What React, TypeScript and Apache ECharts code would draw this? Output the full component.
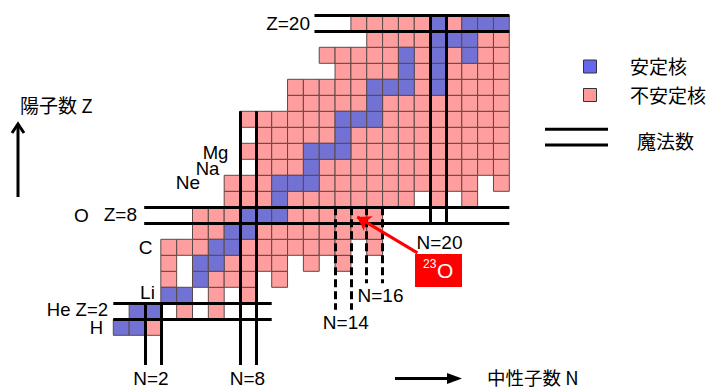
import React, { useEffect, useRef } from "react";
import * as echarts from "echarts";

// Proton numbers Z = 1 … 20, one entry per row of the chart
const protonNumbers = [1, 2, 3, 4, 5, 6, 7, 8, 9, 10, 11, 12, 13, 14, 15, 16, 17, 18, 19, 20];

// Neutron numbers of stable nuclides, per Z
const stableN: number[][] = [
  [0, 1],
  [1, 2],
  [3, 4],
  [5],
  [5, 6],
  [6, 7],
  [7, 8],
  [8, 9, 10],
  [10],
  [10, 11, 12],
  [12],
  [12, 13, 14],
  [14],
  [14, 15, 16],
  [16],
  [16, 17, 18, 20],
  [18, 20],
  [18, 20, 22],
  [20, 21, 22],
  [20, 22, 23, 24],
];

// Neutron numbers of unstable (bound) nuclides, per Z
const unstableN: number[][] = [
  [2],
  [4, 6],
  [6, 8],
  [3, 6, 7, 8, 10],
  [3, 7, 8, 9, 10, 12, 14],
  [3, 4, 5, 8, 9, 10, 11, 12, 13, 14, 16],
  [5, 6, 9, 10, 11, 12, 13, 14, 15, 16],
  [5, 6, 7, 11, 12, 13, 14, 15, 16],
  [7, 8, 9, 11, 12, 13, 14, 15, 16, 17, 18, 20, 22],
  [7, 8, 9, 13, 14, 15, 16, 17, 18, 19, 20, 21, 22, 24],
  [9, 10, 11, 13, 14, 15, 16, 17, 18, 19, 20, 21, 22, 23, 24],
  [8, 9, 10, 11, 15, 16, 17, 18, 19, 20, 21, 22, 23, 24],
  [9, 10, 11, 12, 13, 15, 16, 17, 18, 19, 20, 21, 22, 23, 24],
  [8, 9, 10, 11, 12, 13, 17, 18, 19, 20, 21, 22, 23, 24],
  [11, 12, 13, 14, 15, 17, 18, 19, 20, 21, 22, 23, 24],
  [11, 12, 13, 14, 15, 19, 21, 22, 23, 24],
  [14, 15, 16, 17, 19, 21, 22, 23, 24],
  [13, 14, 15, 16, 17, 19, 21, 23, 24],
  [16, 17, 18, 19, 23, 24],
  [15, 16, 17, 18, 19, 21],
];

// Magic-number double lines: [x1, y1, x2, y2] in (N, Z) cell-edge coordinates
const magicZLines = [
  [0, 2, 10, 2],
  [0, 3, 10, 3],
  [1.95, 8, 25, 8],
  [1.95, 9, 25, 9],
  [12.7, 20, 25, 20],
  [12.7, 21, 25, 21],
];
const magicNLines = [
  [2, 3, 2, -0.85],
  [3, 3, 3, -0.85],
  [8, 15, 8, -0.85],
  [9, 15, 9, -0.85],
  [20, 21, 20, 7.9],
  [21, 21, 21, 7.9],
];
const newMagicLines = [
  [14, 9, 14, 2.6],
  [15, 9, 15, 2.6],
  [16, 9, 16, 4.25],
  [17, 9, 17, 4.25],
];
// Arrow pointing at 23O (N = 15, Z = 8)
const arrowToO23 = [19.2, 6.15, 15.4, 8.4];

const STABLE = "#7272D4";
const UNSTABLE = "#FF9E9E";
const EDGE = "#5c4848";
const LATIN = '"Liberation Sans", Arial, sans-serif';
const CJK = '"Noto Sans CJK JP", sans-serif';

function cellSeries(name: string, rows: number[][], color: string) {
  const data: number[][] = [];
  rows.forEach((ns, i) => ns.forEach((n) => data.push([n, protonNumbers[i]])));
  return {
    type: "custom",
    name,
    data,
    z: 2,
    renderItem: (_params: any, api: any) => {
      const n = api.value(0);
      const zz = api.value(1);
      const p0 = api.coord([n, zz + 1]);
      const p1 = api.coord([n + 1, zz]);
      return {
        type: "rect",
        shape: { x: p0[0], y: p0[1], width: p1[0] - p0[0], height: p1[1] - p0[1] },
        style: { fill: color, stroke: EDGE, lineWidth: 1 },
      };
    },
  };
}

function segs(lines: number[][]) {
  return lines.map((l) => ({ coords: [[l[0], l[1]], [l[2], l[3]]] }));
}

function txt(text: string, x: number, y: number, align = "center", size = 19, family = LATIN, fill = "#000") {
  return {
    type: "text",
    z: 20,
    style: {
      text,
      x,
      y,
      fill,
      fontSize: size,
      fontFamily: family,
      lineHeight: Math.round(size * 0.8),
      textAlign: align,
      textVerticalAlign: "middle",
    },
  };
}

export default function App() {
  const ref = useRef<HTMLDivElement>(null);

  useEffect(() => {
    if (!ref.current) return;
    const chart = echarts.init(ref.current, undefined, { renderer: "svg" });
    chart.setOption({
      animation: false,
      grid: { left: 113.3, top: 7.3, width: 411.84, height: 376 },
      xAxis: { type: "value", min: 0, max: 26, show: false },
      yAxis: { type: "value", min: -2, max: 21.5, show: false },
      series: [
        cellSeries("不安定核", unstableN, UNSTABLE),
        cellSeries("安定核", stableN, STABLE),
        {
          type: "lines",
          coordinateSystem: "cartesian2d",
          z: 5,
          symbol: "none",
          lineStyle: { color: "#000", width: 3, opacity: 1, type: "solid" },
          data: segs([...magicZLines, ...magicNLines]),
        },
        {
          type: "lines",
          coordinateSystem: "cartesian2d",
          z: 5,
          symbol: "none",
          lineStyle: { color: "#000", width: 3, opacity: 1, type: [8, 4] },
          data: segs(newMagicLines),
        },
        {
          type: "lines",
          coordinateSystem: "cartesian2d",
          z: 6,
          symbol: ["none", "arrow"],
          symbolSize: 13,
          lineStyle: { color: "#FF0000", width: 3, opacity: 1 },
          data: segs([arrowToO23]),
        },
      ],
      graphic: [
        // element / magic-number labels
        txt("Z=20", 310, 23.5, "right"),
        txt("O", 81.5, 215),
        txt("Z=8", 137, 214, "right"),
        txt("C", 145.5, 247),
        txt("Li", 147.5, 292),
        txt("He Z=2", 108, 309.5, "right", 18.5),
        txt("H", 96.5, 327.5, "center", 18.5),
        txt("Ne", 188, 182),
        txt("Na", 207.5, 168.5, "center", 18.5),
        txt("Mg", 215.5, 152.5, "center", 18.5),
        txt("N=2", 151, 378.5),
        txt("N=8", 247.5, 378.5),
        txt("N=14", 345.8, 322.5),
        txt("N=16", 380.5, 295.5),
        txt("N=20", 439.5, 242.5),
        // axis titles and arrows
        txt("陽子数 Z", 20, 104, "left", 19, CJK),
        { type: "line", z: 20, shape: { x1: 18, y1: 197, x2: 18, y2: 125 }, style: { stroke: "#000", lineWidth: 3 } },
        { type: "polyline", z: 20, shape: { points: [[12, 133], [18, 124], [24, 133]] }, style: { stroke: "#000", lineWidth: 3, fill: "none" } },
        txt("中性子数 N", 487, 376.5, "left", 18.5, CJK),
        { type: "line", z: 20, shape: { x1: 395, y1: 378.5, x2: 452, y2: 378.5 }, style: { stroke: "#000", lineWidth: 3 } },
        { type: "polygon", z: 20, shape: { points: [[447, 373], [462, 378.5], [447, 384]] }, style: { fill: "#000" } },
        // 23O tag
        { type: "rect", z: 20, shape: { x: 415, y: 254, width: 47, height: 33 }, style: { fill: "#FF0000" } },
        txt("23", 423, 264, "left", 12, LATIN, "#fff"),
        txt("O", 437, 270.5, "left", 21, LATIN, "#fff"),
        // legend
        { type: "rect", z: 20, shape: { x: 583.5, y: 60, width: 13, height: 13 }, style: { fill: "#6666EE", stroke: "#333", lineWidth: 1 } },
        txt("安定核", 630, 65, "left", 19, CJK),
        { type: "rect", z: 20, shape: { x: 583.5, y: 88.5, width: 13, height: 13 }, style: { fill: "#FF9999", stroke: "#333", lineWidth: 1 } },
        txt("不安定核", 630, 94.5, "left", 19, CJK),
        { type: "line", z: 20, shape: { x1: 545, y1: 129.3, x2: 608, y2: 129.3 }, style: { stroke: "#000", lineWidth: 3 } },
        { type: "line", z: 20, shape: { x1: 545, y1: 145, x2: 608, y2: 145 }, style: { stroke: "#000", lineWidth: 3 } },
        txt("魔法数", 637, 140, "left", 19, CJK),
      ],
    });
    return () => chart.dispose();
  }, []);

  return (
    <div
      ref={ref}
      style={{ position: "absolute", left: 0, top: 0, width: 711, height: 389, background: "#fff" }}
    />
  );
}
